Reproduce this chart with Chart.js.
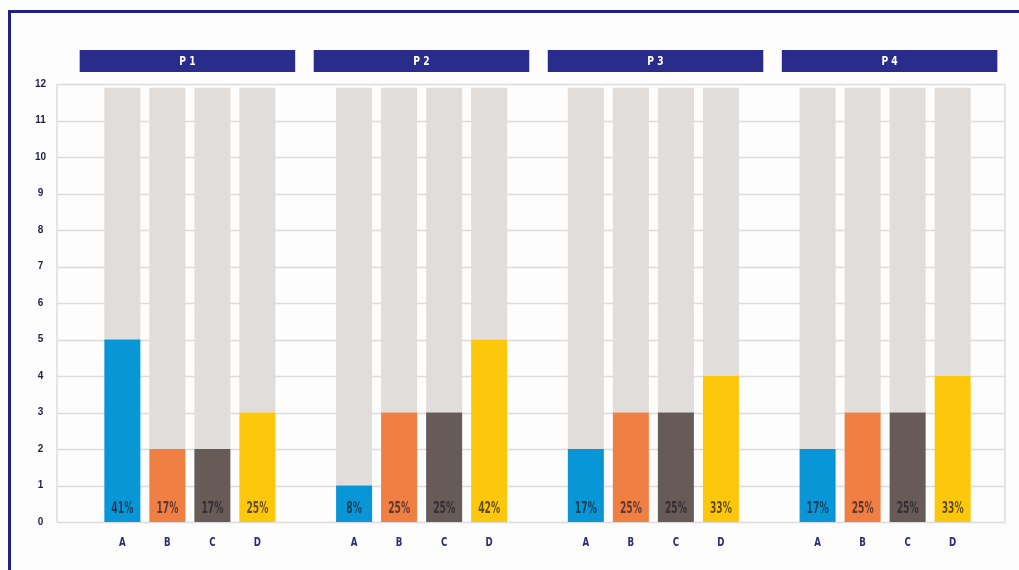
<!DOCTYPE html>
<html>
<head>
<meta charset="utf-8">
<script src="https://cdn.jsdelivr.net/npm/chart.js@4.4.1/dist/chart.umd.min.js"></script>
<style>
    html, body { margin: 0; padding: 0; background: #fdfdfd; }
    #wrap { position: relative; width: 1019px; height: 570px; overflow: hidden; }
    #frame {
        position: absolute; left: 8px; top: 10px; width: 1100px; height: 700px;
        border-left: 3px solid #1f2080; border-top: 3px solid #1f2080;
    }
    canvas { position: absolute; left: 0; top: 0; }
</style>
</head>
<body>
<div id="wrap">
    <div id="frame"></div>
    <canvas id="chart" width="1019" height="570"></canvas>
</div>
<script>
// data
const groups = ["P1", "P2", "P3", "P4"];
const letters = ["A", "B", "C", "D"];
const valuesA = [5, 1, 2, 2];
const valuesB = [2, 3, 3, 3];
const valuesC = [2, 3, 3, 3];
const valuesD = [3, 5, 4, 4];
const totals = [11.9, 11.9, 11.9, 11.9];
const pctA = ["41%", "8%", "17%", "17%"];
const pctB = ["17%", "25%", "25%", "25%"];
const pctC = ["17%", "25%", "25%", "25%"];
const pctD = ["25%", "42%", "33%", "33%"];
const yTicks = [0, 1, 2, 3, 4, 5, 6, 7, 8, 9, 10, 11, 12];

const colors = ["#0896d7", "#f07f43", "#675b58", "#fdc70c"];
const greyColor = "#e0dddb";
const series = [valuesA, valuesB, valuesC, valuesD];
const pcts = [pctA, pctB, pctC, pctD];

const datasets = [];
series.forEach((vals, k) => {
    datasets.push({
        label: letters[k],
        data: vals,
        backgroundColor: colors[k],
        stack: letters[k],
    });
});
// grey part on top of each coloured bar
series.forEach((vals, k) => {
    datasets.push({
        label: letters[k] + " rest",
        data: totals.map((t, i) => t - vals[i]),
        backgroundColor: greyColor,
        stack: letters[k],
    });
});

// grid, headers, labels
const decorPlugin = {
    id: "decor",
    beforeDatasetsDraw(chart) {
        const { ctx, chartArea, scales: { y } } = chart;
        const left = chartArea.left - 17;
        const right = chartArea.right + 4;
        ctx.save();
        ctx.strokeStyle = "#dcdcdc";
        ctx.lineWidth = 1.5;
        yTicks.forEach((t) => {
            const py = Math.round(y.getPixelForValue(t)) + 0.5;
            ctx.beginPath();
            ctx.moveTo(left, py);
            ctx.lineTo(right, py);
            ctx.stroke();
        });
        const top = y.getPixelForValue(12);
        const bottom = y.getPixelForValue(0);
        [left, right].forEach((px) => {
            ctx.beginPath();
            ctx.moveTo(px, top);
            ctx.lineTo(px, bottom);
            ctx.stroke();
        });
        ctx.restore();
    },
    afterDatasetsDraw(chart) {
        const { ctx, scales: { x, y } } = chart;
        const base = y.getPixelForValue(0);
        ctx.save();
        ctx.textAlign = "center";
        ctx.textBaseline = "middle";

        // group headers
        const catW = x.width / groups.length;
        groups.forEach((g, i) => {
            const cx = x.getPixelForValue(i) + (i - 1.5) * 2.3 + 1;
            const w = catW * 0.93;
            ctx.fillStyle = "#2a2c8c";
            ctx.fillRect(cx - w / 2, 50, w, 22);
            ctx.fillStyle = "#ffffff";
            ctx.font = "bold 12px 'DejaVu Sans Condensed'";
            ctx.save();
            ctx.translate(cx, 62);
            ctx.scale(0.85, 1);
            ctx.fillText(g.split("").join(" "), 0, 0);
            ctx.restore();
        });

        // percentages and letters
        series.forEach((vals, k) => {
            const meta = chart.getDatasetMeta(k);
            meta.data.forEach((bar, i) => {
                ctx.save();
                ctx.translate(bar.x, base - 13);
                ctx.scale(0.68, 1);
                ctx.fillStyle = "rgba(35, 28, 40, 0.72)";
                ctx.font = "bold 15px 'DejaVu Sans Condensed'";
                ctx.fillText(pcts[k][i], 0, 0);
                ctx.restore();

                ctx.save();
                ctx.translate(bar.x, base + 21);
                ctx.scale(0.8, 1);
                ctx.fillStyle = "#2b2c78";
                ctx.font = "bold 12px 'DejaVu Sans Condensed'";
                ctx.fillText(letters[k], 0, 0);
                ctx.restore();
            });
        });
        ctx.restore();
    },
};

new Chart(document.getElementById("chart"), {
    type: "bar",
    data: {
        labels: groups,
        datasets: datasets,
    },
    options: {
        responsive: false,
        animation: false,
        categoryPercentage: 0.777,
        barPercentage: 0.8,
        layout: {
            padding: {
                top: 84,
                bottom: 48,
                left: 0,
                right: 18,
            },
        },
        scales: {
            x: {
                display: false,
            },
            y: {
                stacked: true,
                min: 0,
                max: 12,
                grid: {
                    display: false,
                    drawTicks: false,
                },
                border: {
                    display: false,
                },
                ticks: {
                    stepSize: 1,
                    crossAlign: "center",
                    padding: 28,
                    color: "#1f1f40",
                    font: {
                        family: "'Liberation Sans'",
                        size: 10,
                        weight: "bold",
                    },
                },
                afterFit: function (scale) {
                    scale.width = 74;
                },
            },
        },
        plugins: {
            legend: { display: false },
            tooltip: { enabled: false },
        },
    },
    plugins: [decorPlugin],
});
</script>
</body>
</html>
